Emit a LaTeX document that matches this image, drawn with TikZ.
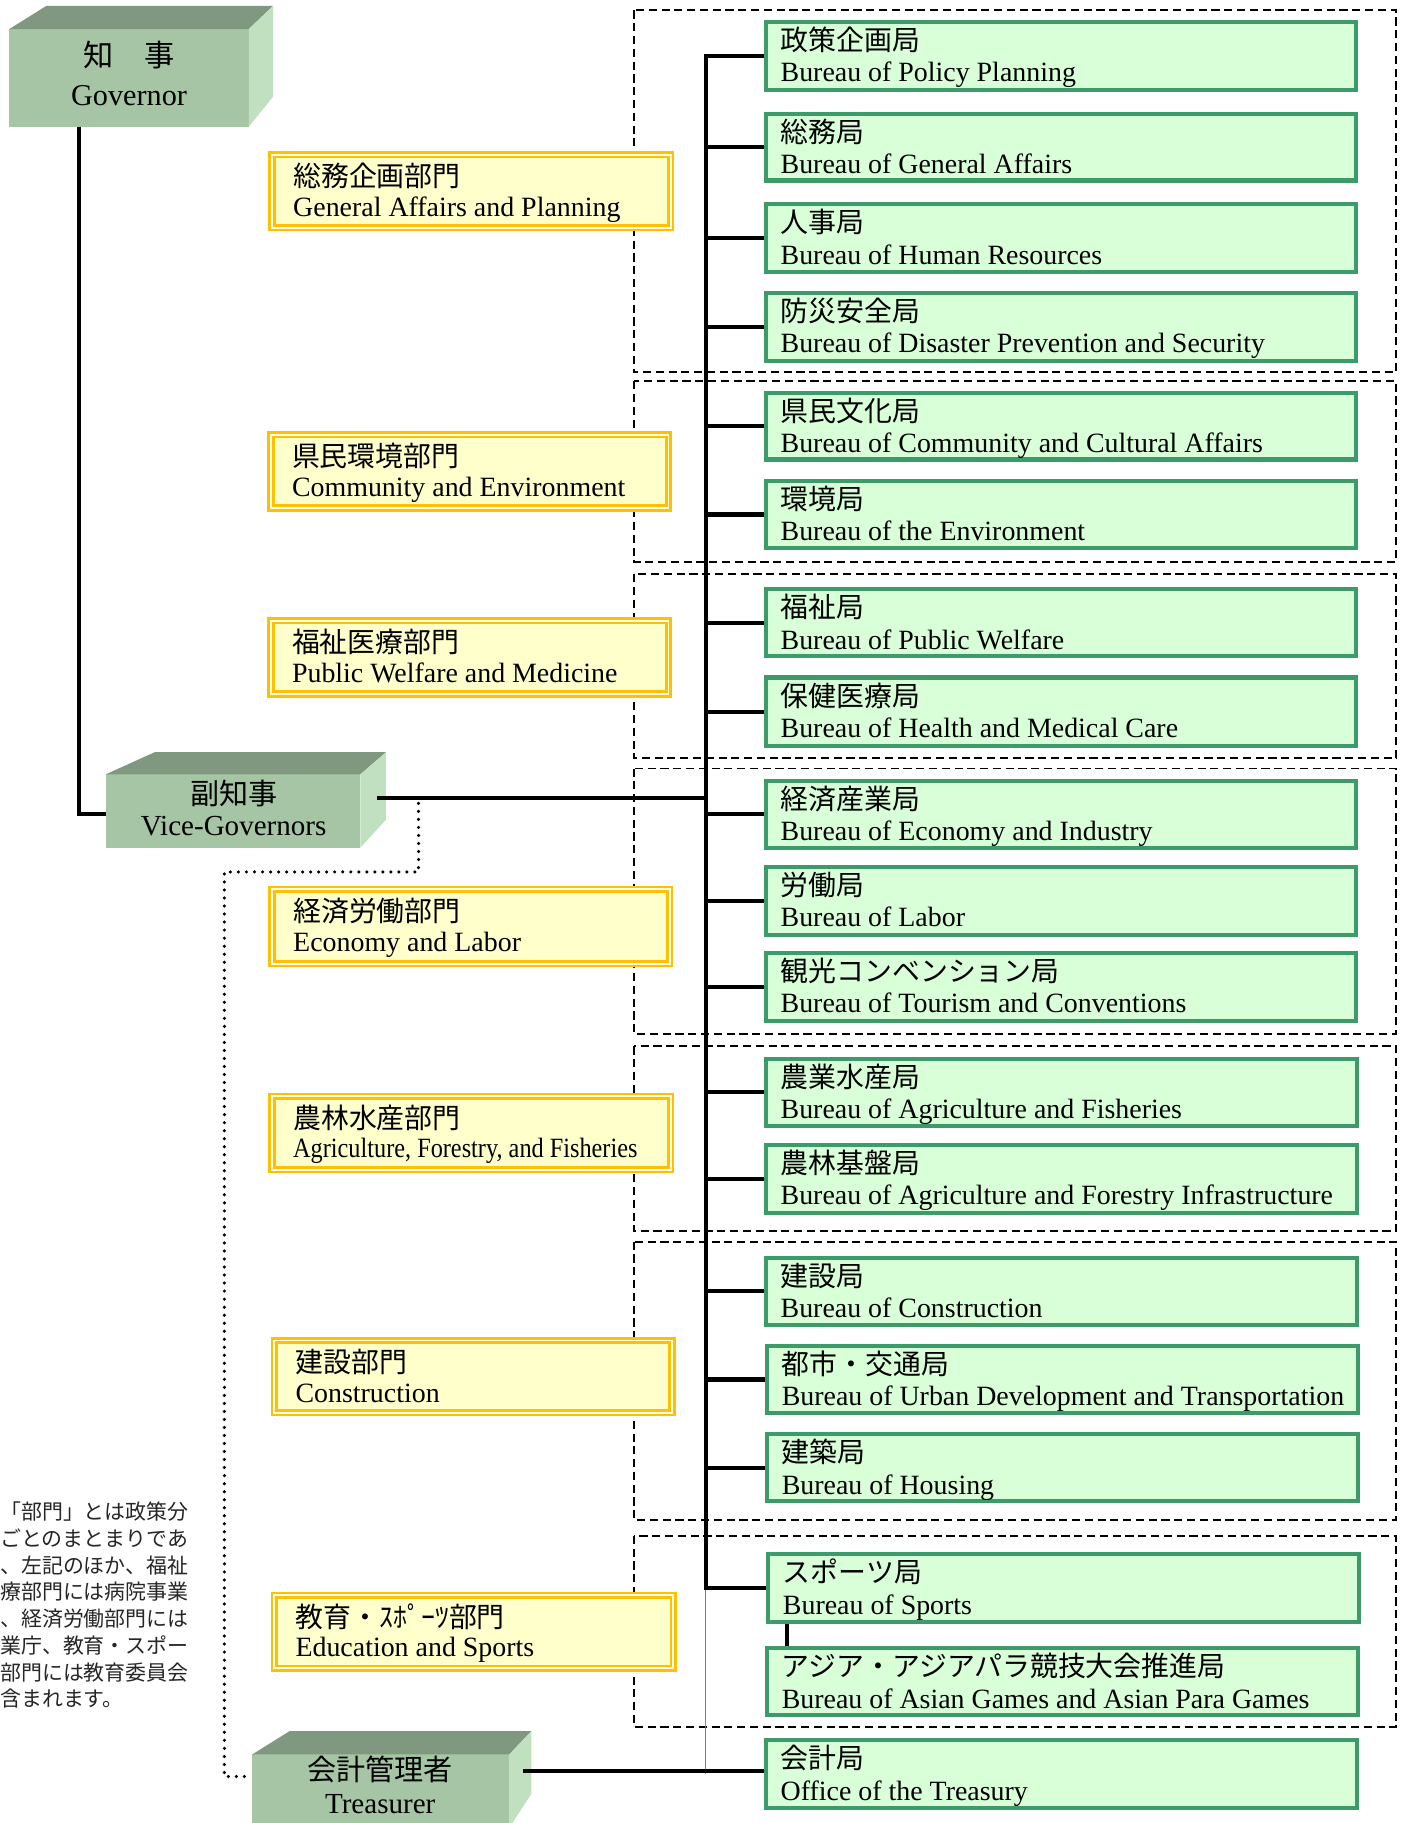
\documentclass[tikz,border=0pt]{standalone}
\usepackage{fontspec}
\setmainfont{Liberation Serif}
\newfontfamily\jp{Noto Sans CJK JP}
\usetikzlibrary{calc}
\definecolor{gfill}{HTML}{D9FFD9}
\definecolor{gborder}{HTML}{3C9B69}
\definecolor{yfill}{HTML}{FFFFCC}
\definecolor{ygap}{HTML}{FFFFEE}
\definecolor{yborder}{HTML}{FFC000}
\definecolor{cfront}{HTML}{A5C5A5}
\definecolor{ctop}{HTML}{809880}
\definecolor{cside}{HTML}{C0E0C0}
% name, L, T, R, B, jp, en
\newcommand\mkbureau[7]{%
  \node[gbox, minimum width={#4-#2-3.5}, minimum height={#5-#3-3.5}] (#1) at ({#2+1.75},{#3+1.75}) {};
  \node[jptxt] (#1j) at ([xshift=12.5pt,yshift=-24.5pt]#1.north west) {#6};
  \node[entxt] (#1e) at ([xshift=12.5pt,yshift=-51.5pt]#1.north west) {#7};
}
\newcommand\mkdept[7]{%
  \node[ybox, minimum width={#4-#2-6}, minimum height={#5-#3-6}] (#1) at ({#2+3},{#3+3}) {};
  \node[jptxt] (#1j) at ([xshift=18pt,yshift=-27.5pt]#1.north west) {#6};
  \node[entxt] (#1e) at ([xshift=18pt,yshift=-53pt]#1.north west) {#7};
}
\newcommand\mkgroup[3]{%
  \draw[grp] (545,#2) rectangle (1201,#3);
}
\begin{document}
\begin{tikzpicture}[x=1pt,y=-1pt,
  gbox/.style={draw=gborder,fill=gfill,line width=3.5pt,inner sep=0pt,outer sep=0pt,anchor=north west,rectangle},
  ybox/.style={draw=yborder,double=ygap,double distance=1.6pt,line width=2.3pt,fill=yfill,inner sep=0pt,outer sep=0pt,anchor=north west,rectangle},
  grp/.style={draw=black,line width=1.7pt,dash pattern=on 7pt off 4pt},
  conn/.style={draw=black,line width=3.5pt},
  thinl/.style={draw=gray,line width=1pt},
  dotl/.style={draw=black,line width=3pt,line cap=round,dash pattern=on 0pt off 6.9pt},
  jptxt/.style={font=\jp\fontsize{24}{24}\selectfont,inner sep=0pt,anchor=base west},
  entxt/.style={font=\fontsize{24}{24}\selectfont,inner sep=0pt,anchor=base west},
  cubefront/.style={fill=cfront,inner sep=0pt,outer sep=0pt,anchor=north west,rectangle},
  cubetop/.style={fill=ctop},
  cubeside/.style={fill=cside},
  cubejp/.style={font=\jp\fontsize{25}{25}\selectfont,inner sep=0pt,anchor=base},
  cubeen/.style={font=\fontsize{25}{25}\selectfont,inner sep=0pt,anchor=base},
  notetxt/.style={font=\jp\fontsize{18}{18}\selectfont,inner sep=0pt,anchor=base west,text=black!85},
]
\useasboundingbox (0,0) rectangle (1213.6,1568);
\clip (0,0) rectangle (1213.6,1568);
\fill[white] (0,0) rectangle (1213.6,1568);

% dashed groups
\mkgroup{g1}{9}{320}
\mkgroup{g2}{328}{483}
\mkgroup{g3}{494}{652}
\mkgroup{g4}{661}{889}
\mkgroup{g5}{900}{1059}
\mkgroup{g6}{1068}{1307}
\mkgroup{g7}{1321}{1485}

% departments
\mkdept{y1}{231}{130}{580}{199}{総務企画部門}{General Affairs and Planning}
\mkdept{y2}{230}{371}{578}{440}{県民環境部門}{Community and Environment}
\mkdept{y3}{230}{531}{578}{600}{福祉医療部門}{Public Welfare and Medicine}
\mkdept{y4}{231}{762}{579}{832}{経済労働部門}{Economy and Labor}
\mkdept{y5}{231}{940}{580}{1009}{農林水産部門}{\scalebox{0.87}[1]{Agriculture, Forestry, and Fisheries}}
\mkdept{y6}{233}{1150}{581}{1218}{建設部門}{Construction}
\mkdept{y7}{233}{1369}{582}{1438}{教育・ｽﾎﾟｰﾂ部門}{Education and Sports}

% bureaus
\mkbureau{b1}{657}{17}{1168}{79}{政策企画局}{Bureau of Policy Planning}
\mkbureau{b2}{657}{96}{1168}{157}{総務局}{Bureau of General Affairs}
\mkbureau{b3}{657}{174}{1168}{236}{人事局}{Bureau of Human Resources}
\mkbureau{b4}{657}{250}{1168}{312}{防災安全局}{Bureau of Disaster Prevention and Security}
\mkbureau{b5}{657}{336}{1168}{397}{県民文化局}{Bureau of Community and Cultural Affairs}
\mkbureau{b6}{657}{412}{1168}{473}{環境局}{Bureau of the Environment}
\mkbureau{b7}{657}{505}{1168}{566}{福祉局}{Bureau of Public Welfare}
\mkbureau{b8}{657}{581}{1168}{643}{保健医療局}{Bureau of Health and Medical Care}
\mkbureau{b9}{657}{670}{1168}{731}{経済産業局}{Bureau of Economy and Industry}
\mkbureau{b10}{657}{744}{1168}{806}{労働局}{Bureau of Labor}
\mkbureau{b11}{657}{818}{1168}{880}{観光コンベンション局}{Bureau of Tourism and Conventions}
\mkbureau{b12}{657}{909}{1169}{970}{農業水産局}{Bureau of Agriculture and Fisheries}
\mkbureau{b13}{657}{983}{1169}{1045}{農林基盤局}{Bureau of Agriculture and Forestry Infrastructure}
\mkbureau{b14}{657}{1080}{1169}{1141}{建設局}{Bureau of Construction}
\mkbureau{b15}{658}{1156}{1170}{1217}{都市・交通局}{Bureau of Urban Development and Transportation}
\mkbureau{b16}{658}{1232}{1170}{1293}{建築局}{Bureau of Housing}
\mkbureau{b17}{659}{1335}{1171}{1397}{スポーツ局}{Bureau of Sports}
\mkbureau{b18}{658}{1416}{1170}{1477}{アジア・アジアパラ競技大会推進局}{Bureau of Asian Games and Asian Para Games}
\mkbureau{b19}{657}{1495}{1169}{1557}{会計局}{Office of the Treasury}

% bus and connectors
\coordinate (bus) at (607,0);
\draw[thinl] (bus |- b17.west) -- (bus |- b19.west);
\draw[conn] ([xshift=-1.75pt]b1.west) -- (bus |- b1.west) -- (bus |- b17.west) -- ([xshift=-1.75pt]b17.west);
\foreach \b in {b2,b3,b4,b5,b6,b7,b8,b9,b10,b11,b12,b13,b14,b15,b16}{
  \draw[conn] (bus |- \b.west) -- ([xshift=-1.75pt]\b.west);
}
\coordinate (sa) at (677,0);
\draw[line width=3pt] ([yshift=-1.75pt]b17.south -| sa) -- ([yshift=1.75pt]b18.north -| sa);

% Governor
\node[cubefront, minimum width=206, minimum height=84] (gov) at (8,25) {};
\fill[cubetop] (gov.north west) -- (40,5) -- (235,5) -- (gov.north east) -- cycle;
\fill[cubeside] (gov.north east) -- (235,5) -- (235,83) -- (gov.south east) -- cycle;
\node[cubejp, font=\jp\fontsize{26}{26}\selectfont] (govj) at (111,57) {知　事};
\node[cubeen, font=\fontsize{26}{26}\selectfont] (gove) at (111,91) {Governor};

% Vice-Governors
\node[cubefront, minimum width=219, minimum height=63] (vg) at (91,666) {};
\fill[cubetop] (vg.north west) -- (133,647) -- (332,647) -- (vg.north east) -- cycle;
\fill[cubeside] (vg.north east) -- (332,647) -- (332,705) -- (vg.south east) -- cycle;
\node[cubejp] (vgj) at (201,692) {副知事};
\node[cubeen] (vge) at (201,719) {Vice-Governors};

% Treasurer
\node[cubefront, minimum width=221, minimum height=63] (tr) at (217,1509) {};
\fill[cubetop] (tr.north west) -- (249,1489) -- (457,1489) -- (tr.north east) -- cycle;
\fill[cubeside] (tr.north east) -- (457,1489) -- (457,1543) -- (tr.south east) -- cycle;
\node[cubejp] (trj) at (327,1531) {会計管理者};
\node[cubeen] (tre) at (327,1560) {Treasurer};

% Governor to Vice-Governors
\coordinate (gvb) at (68,700);
\draw[line width=3pt] (gov.south -| gvb) -- (gvb) -- (vg.west |- gvb);
% Vice-Governors to bus
\coordinate (vgout) at (324,686);
\draw[conn] (vgout) -- (bus |- vgout);
% Treasurer to Office of the Treasury
\coordinate (trout) at (450,1523);
\draw[conn] (trout) -- ([xshift=-1.75pt]b19.west |- trout);
% dotted line Vice-Governors to Treasurer
\coordinate (d1) at (360,691);
\coordinate (d2) at (360,750);
\coordinate (d3) at (193,750);
\coordinate (d4) at (193,1528);
\draw[dotl] (d1) -- (d2) -- (d3) -- (d4) -- (tr.west |- d4);

% note
\node[notetxt] (n1) at (0,1307) {「部門」とは政策分};
\node[notetxt] (n2) at (0,1330) {ごとのまとまりであ};
\node[notetxt] (n3) at (0,1353) {、左記のほか、福祉};
\node[notetxt] (n4) at (0,1376) {療部門には病院事業};
\node[notetxt] (n5) at (0,1399) {、経済労働部門には};
\node[notetxt] (n6) at (0,1422) {業庁、教育・スポー};
\node[notetxt] (n7) at (0,1445) {部門には教育委員会};
\node[notetxt] (n8) at (0,1468) {含まれます。};
\end{tikzpicture}
\end{document}
